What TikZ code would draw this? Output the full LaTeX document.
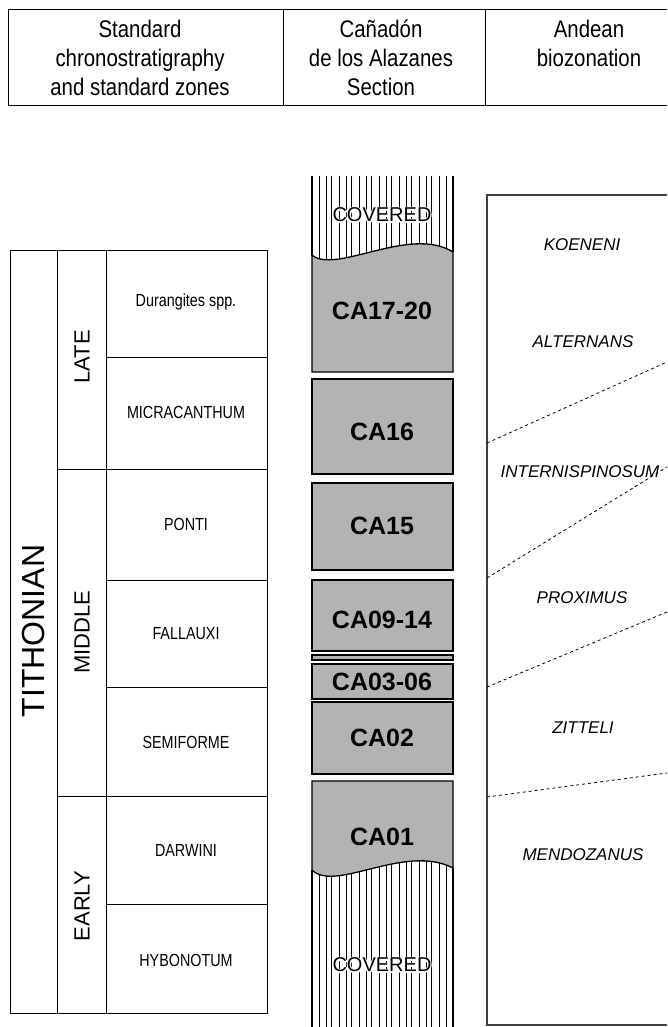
\documentclass[tikz,border=0pt]{standalone}
\usepackage{fontspec}
\setmainfont{Liberation Sans}
\newfontfamily\headfont[FakeStretch=0.85]{Liberation Sans}
\newfontfamily\zonefont[FakeStretch=0.82]{Liberation Sans}
\newfontfamily\halofont[FakeBold=12]{Liberation Sans}
\definecolor{bedgray}{RGB}{179,179,179}
\tikzset{
  headlabel/.style={font=\headfont\fontsize{24}{29}\selectfont},
  zonelabel/.style={font=\zonefont\fontsize{17.5}{21}\selectfont},
  agelabel/.style={rotate=90, font=\fontsize{22}{26}\selectfont},
  bedlabel/.style={font=\bfseries\fontsize{25}{30}\selectfont},
  andeanlabel/.style={font=\itshape\fontsize{17}{20}\selectfont},
  coveredlabel/.style={font=\fontsize{20}{24}\selectfont},
  coveredhalo/.style={font=\halofont\fontsize{20}{24}\selectfont, text=white},
  bedbox/.style={draw=black, fill=bedgray, line width=1.3pt},
  hatchline/.style={black, line width=1pt},
  zoneline/.style={black, line width=0.8pt, dash pattern=on 3pt off 3pt}
}
\begin{document}
\begin{tikzpicture}[x=1pt,y=-1pt]
    \tikzstyle{every node}+=[inner sep=0pt]
    \useasboundingbox (0,0) rectangle (667,1027);
    % header row
    \draw [black, line width=1pt] (8,10) -- (667,10);
    \draw [black, line width=1pt] (8,106) -- (667,106);
    \draw [black, line width=1pt] (8,10) -- (8,106);
    \draw [black, line width=1pt] (283,10) -- (283,106);
    \draw [black, line width=1pt] (485,10) -- (485,106);
    \node [headlabel, anchor=base] (stdA) at (140,38) {Standard};
    \node [headlabel, anchor=base] (stdB) at (140,67) {chronostratigraphy};
    \node [headlabel, anchor=base] (stdC) at (140,96) {and standard zones};
    \node [headlabel, anchor=base] (secA) at (381,38) {Cañadón};
    \node [headlabel, anchor=base] (secB) at (381,67) {de los Alazanes};
    \node [headlabel, anchor=base] (secC) at (381,96) {Section};
    \node [headlabel, anchor=base] (andA) at (589,38) {Andean};
    \node [headlabel, anchor=base] (andB) at (589,67) {biozonation};
    % standard chronostratigraphy
    \draw [black, line width=1pt] (10,250) rectangle (267,1013);
    \draw [black, line width=1pt] (57,250) -- (57,1013);
    \draw [black, line width=1pt] (106,250) -- (106,1013);
    \draw [black, line width=1pt] (57,469) -- (267,469);
    \draw [black, line width=1pt] (57,796) -- (267,796);
    \foreach \y in {357,580,687,904}
      \draw [black, line width=1pt] (106,\y) -- (267,\y);
    \node [rotate=90, font=\fontsize{32}{38}\selectfont] (tith) at (33,631) {TITHONIAN};
    \node [agelabel] (late) at (82,357) {LATE};
    \node [agelabel] (middle) at (82,632) {MIDDLE};
    \node [agelabel] (early) at (82,906) {EARLY};
    \node [zonelabel] (durang) at (186,302) {Durangites spp.};
    \node [zonelabel] (micra) at (186,412) {MICRACANTHUM};
    \node [zonelabel] (ponti) at (186,524) {PONTI};
    \node [zonelabel] (fallx) at (186,634) {FALLAUXI};
    \node [zonelabel] (semif) at (186,742) {SEMIFORME};
    \node [zonelabel] (darw) at (186,850) {DARWINI};
    \node [zonelabel] (hybo) at (186,960) {HYBONOTUM};
    % section column, covered top
    \begin{scope}
      \clip (312,176) -- (312,255) .. controls (335,275) and (410,225) .. (453,252) -- (453,176) -- cycle;
      \foreach \x in {319,326,331,339,346,351,359,366,371,379,386,391,399,406,411,419,426,431,439,446}
        \draw [hatchline] (\x,176) -- (\x,275);
    \end{scope}
    \draw [black, line width=1.3pt] (312,176) -- (312,256);
    \draw [black, line width=1.3pt] (453,176) -- (453,252);
    \node [coveredhalo] at (382,215) {COVERED};
    \node [coveredlabel] (covtop) at (382,215) {COVERED};
    \draw [bedbox] (312,255) .. controls (335,275) and (410,225) .. (453,252) -- (453,372) -- (312,372) -- cycle;
    \node [bedlabel] (ca17) at (382,311) {CA17-20};
    % beds
    \draw [bedbox] (312,379) rectangle (453,474);
    \node [bedlabel] (ca16) at (382,432) {CA16};
    \draw [bedbox] (312,483) rectangle (453,570);
    \node [bedlabel] (ca15) at (382,526) {CA15};
    \draw [bedbox] (312,580) rectangle (453,651);
    \node [bedlabel] (ca09) at (382,620) {CA09-14};
    \draw [bedbox] (312,655) rectangle (453,660);
    \draw [bedbox] (312,664) rectangle (453,699);
    \node [bedlabel] (ca03) at (382,682) {CA03-06};
    \draw [bedbox] (312,702) rectangle (453,774);
    \node [bedlabel] (ca02) at (382,738) {CA02};
    % section column, covered base
    \begin{scope}
      \clip (312,870) .. controls (335,893) and (405,843) .. (453,868) -- (453,1030) -- (312,1030) -- cycle;
      \foreach \x in {319,326,331,339,346,351,359,366,371,379,386,391,399,406,411,419,426,431,439,446}
        \draw [hatchline] (\x,850) -- (\x,1030);
    \end{scope}
    \draw [bedbox] (312,781) -- (453,781) -- (453,868) .. controls (405,843) and (335,893) .. (312,870) -- cycle;
    \node [bedlabel] (ca01) at (382,837) {CA01};
    \draw [black, line width=1.3pt] (312,870) -- (312,1030);
    \draw [black, line width=1.3pt] (453,868) -- (453,1030);
    \node [coveredhalo] at (382,965) {COVERED};
    \node [coveredlabel] (covbase) at (382,965) {COVERED};
    % andean biozonation
    \draw [black!75, line width=1.6pt] (667,195) -- (487,195) -- (487,1025) -- (667,1025);
    \coordinate (bA) at (487,443); \coordinate (eA) at (667,362);
    \coordinate (bB) at (487,578); \coordinate (eB) at (667,467);
    \coordinate (bC) at (487,687); \coordinate (eC) at (667,612);
    \coordinate (bD) at (487,797); \coordinate (eD) at (667,773);
    \draw [zoneline] (bA) -- (eA);
    \draw [zoneline] (bB) -- (eB);
    \draw [zoneline] (bC) -- (eC);
    \draw [zoneline] (bD) -- (eD);
    \node [andeanlabel] (koen) at (582,245) {KOENENI};
    \node [andeanlabel] (alter) at (583,342) {ALTERNANS};
    \node [andeanlabel] (inter) at (580,472) {INTERNISPINOSUM};
    \node [andeanlabel] (proxi) at (582,598) {PROXIMUS};
    \node [andeanlabel] (zitt) at (583,728) {ZITTELI};
    \node [andeanlabel] (mendo) at (583,855) {MENDOZANUS};
\end{tikzpicture}
\end{document}
